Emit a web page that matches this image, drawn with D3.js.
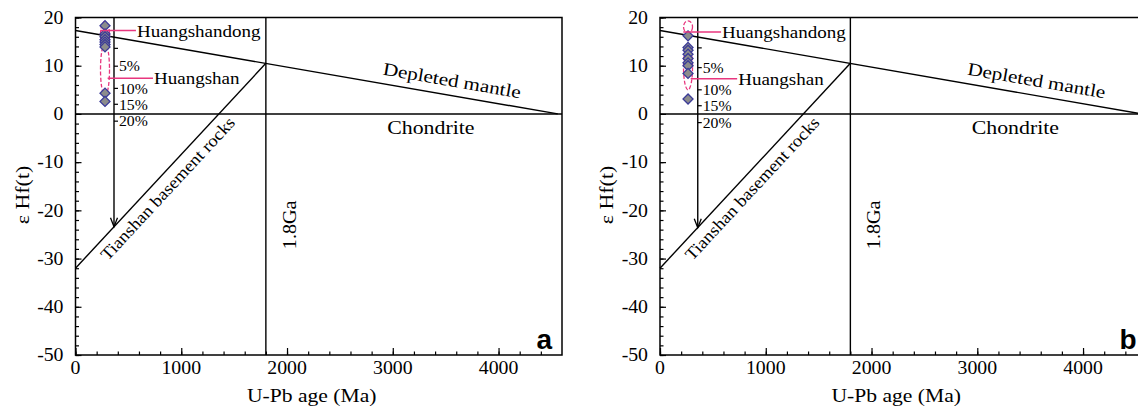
<!DOCTYPE html>
<html>
<head>
<meta charset="utf-8">
<script src="https://cdn.jsdelivr.net/npm/d3@7"></script>
<style>
    body { margin: 0; background: #fff; }
</style>
</head>
<body>
<div id="chart"></div>
<script>
// Axis ticks
const ageTicks = [0, 1000, 2000, 3000, 4000];
const hfTicks = [20, 10, 0, -10, -20, -30, -40, -50];

// Reference lines (age Ma, eHf)
const depletedMantle = [[0, 17.3], [4560, 0]];
const tianshanBasement = [[0, -32], [1800, 10.5]];
const boundaryAge = 1800;

// Mixing arrow with percentage ticks
const mixLabels = ['', '5%', '10%', '15%', '20%'];
const mixValuesA = [13.6, 9.9, 5.3, 2.0, -1.5];
const mixValuesB = [13.7, 9.6, 5.0, 1.7, -1.8];
const arrowAgeA = 364;
const arrowAgeB = 357;
const arrowEndA = -23.4;
const arrowEndB = -23.6;

// Zircon eHf(t) values
const zirconAgeA = 279;
const zirconAgeB = 265;
const huangshandongA = [18.3, 16.6, 16.0, 15.4, 14.9, 14.4];
const huangshanA = [13.9, 4.3, 2.6];
const huangshandongB = [16.2];
const huangshanB = [13.8, 13.2, 12.4, 11.5, 10.6, 10.0, 8.4, 3.1];

// Dashed field outlines [top, bottom] in eHf
const fieldHsdA = [19.2, 13.6];
const fieldHsA = [14.6, 3.8];
const fieldHsdB = [19.3, 16.8];
const fieldHsB = [14.4, 5.0];

// Leader lines: [eHf, label age]
const leaderHsdA = [17.3, 581];
const leaderHsA = [7.4, 742];
const leaderHsdB = [17.0, 587];
const leaderHsB = [7.3, 739];

const pink = '#e8367e';
const serif = 'Liberation Serif';
const W = 1138, H = 412;
const plotTop = 17.5, plotBottom = 355, plotW = 486.5;

const svg = d3.select('#chart')
    .append('svg')
    .attr('width', W)
    .attr('height', H);

function label(g, txt, x, y, opts = {}) {
    const t = g.append('g')
        .attr('transform', `translate(${x},${y}) rotate(${opts.rotate || 0}) scale(${opts.sx || 1.12},1)`)
        .append('text')
        .attr('font-family', serif)
        .attr('font-size', opts.size || 18)
        .attr('fill', '#000')
        .attr('text-anchor', opts.anchor || 'start')
        .text(txt);
    if (opts.dy) t.attr('dy', opts.dy);
    return t;
}

function drawPanel(cfg) {
    const g = svg.append('g').attr('transform', `translate(${cfg.left},0)`);
    const x = d3.scaleLinear().domain([0, 4600]).range([0, plotW]);
    const y = d3.scaleLinear().domain([-50, 20]).range([plotBottom, plotTop]);

    // minor ticks
    g.append('g')
        .attr('transform', `translate(0,${plotBottom})`)
        .call(d3.axisBottom(x).tickValues(d3.range(0, 4600, 200)).tickSize(-3.5).tickFormat(''))
        .call(a => a.select('.domain').remove());
    g.append('g')
        .call(d3.axisLeft(y).tickValues(d3.range(-50, 21, 2)).tickSize(-3.5).tickFormat(''))
        .call(a => a.select('.domain').remove());

    // major ticks
    const xAxis = g.append('g')
        .attr('transform', `translate(0,${plotBottom})`)
        .call(d3.axisBottom(x).tickValues(ageTicks).tickSize(-7).tickPadding(0).tickFormat(''));
    xAxis.select('.domain').remove();
    ageTicks.forEach(v => label(g, d3.format('d')(v), x(v), plotBottom + 19, { anchor: 'middle', sx: 1.1 }));

    const yAxis = g.append('g')
        .call(d3.axisLeft(y).tickValues(hfTicks).tickSize(-6).tickFormat(''));
    yAxis.select('.domain').remove();
    hfTicks.forEach(v => label(g, String(v), -12, y(v), { anchor: 'end', dy: '0.35em', sx: 1.1 }));
    g.selectAll('.tick line').attr('stroke', '#000').attr('stroke-width', 1.2);

    // frame
    g.append('rect')
        .attr('x', 0).attr('y', plotTop)
        .attr('width', plotW).attr('height', plotBottom - plotTop)
        .attr('fill', 'none').attr('stroke', '#000').attr('stroke-width', 1.5);

    const line = d3.line().x(d => x(d[0])).y(d => y(d[1]));
    const ref = (pts) => g.append('path').attr('d', line(pts))
        .attr('fill', 'none').attr('stroke', '#000').attr('stroke-width', 1.4);

    ref([[0, 0], [4600, 0]]);
    ref([[boundaryAge, 20], [boundaryAge, -50]]);
    ref(depletedMantle);
    ref(tianshanBasement);

    // mixing arrow
    ref([[cfg.arrowAge, 20], [cfg.arrowAge, cfg.arrowEnd]]);
    const ax = x(cfg.arrowAge), ay = y(cfg.arrowEnd);
    g.append('path')
        .attr('d', `M${ax - 3.5},${ay - 9} L${ax},${ay} L${ax + 3.5},${ay - 9}`)
        .attr('fill', 'none').attr('stroke', '#000').attr('stroke-width', 1.3);
    cfg.mixValues.forEach((v, i) => {
        g.append('line')
            .attr('x1', ax).attr('x2', ax + 4)
            .attr('y1', y(v)).attr('y2', y(v))
            .attr('stroke', '#000').attr('stroke-width', 1.2);
        if (mixLabels[i]) label(g, mixLabels[i], ax + 5, y(v), { size: 15, dy: '0.35em', sx: 1.05 });
    });

    // reference line labels
    const dmAge = 3550;
    const dmY = y(depletedMantle[0][1] * (1 - dmAge / depletedMantle[1][0]));
    const dmAngle = Math.atan2(y(depletedMantle[1][1]) - y(depletedMantle[0][1]),
        x(depletedMantle[1][0]) - x(depletedMantle[0][0])) * 180 / Math.PI;
    label(g, 'Depleted mantle', x(dmAge), dmY - 9, { anchor: 'middle', rotate: dmAngle, sx: 1.18 });
    label(g, 'Chondrite', x(3360), y(0) + 20, { anchor: 'middle', sx: 1.15, size: 19 });

    const tsAge = 780;
    const [p0, p1] = tianshanBasement;
    const tsVal = p0[1] + (p1[1] - p0[1]) * (tsAge - p0[0]) / (p1[0] - p0[0]);
    const tsAngle = Math.atan2(y(p1[1]) - y(p0[1]), x(p1[0]) - x(p0[0])) * 180 / Math.PI;
    label(g, 'Tianshan basement rocks', x(tsAge), y(tsVal), { anchor: 'middle', rotate: tsAngle, dy: 19, size: 17, sx: 1.1 });
    label(g, '1.8Ga', x(boundaryAge) + 30, y(-23), { anchor: 'middle', rotate: -90, sx: 1.12 });

    // axis titles
    label(g, 'U-Pb age (Ma)', plotW / 2 - 7, 402, { anchor: 'middle', sx: 1.2 });
    label(g, 'ε Hf(t)', -47, 195, { anchor: 'middle', rotate: -90, sx: 1.22 });

    // panel letter
    g.append('text')
        .attr('x', plotW - 10).attr('y', plotBottom - 6)
        .attr('text-anchor', 'end')
        .attr('font-family', 'Liberation Sans')
        .attr('font-weight', 'bold')
        .attr('font-size', 28)
        .text(cfg.letter);

    // dashed fields
    const ell = (f) => g.append('ellipse')
        .attr('cx', x(cfg.zirconAge)).attr('cy', (y(f[0]) + y(f[1])) / 2)
        .attr('rx', 4.5).attr('ry', (y(f[1]) - y(f[0])) / 2)
        .attr('fill', 'none').attr('stroke', pink)
        .attr('stroke-width', 1.3).attr('stroke-dasharray', '4,2');
    ell(cfg.fieldHsd);
    ell(cfg.fieldHs);

    // zircon points
    const diamond = d3.symbol().type(d3.symbolSquare).size(50);
    g.selectAll('.pt')
        .data(cfg.hsd.concat(cfg.hs))
        .enter()
        .append('path')
        .attr('class', 'pt')
        .attr('d', diamond)
        .attr('transform', d => `translate(${x(cfg.zirconAge)},${y(d)}) rotate(45)`)
        .attr('fill', '#8c8c8c')
        .attr('stroke', '#3b3b98')
        .attr('stroke-width', 1.3);

    // leader lines and names
    const leader = (ld, name, fromAge) => {
        g.append('line')
            .attr('x1', x(fromAge)).attr('x2', x(ld[1]) - 1)
            .attr('y1', y(ld[0])).attr('y2', y(ld[0]))
            .attr('stroke', pink).attr('stroke-width', 1.4);
        label(g, name, x(ld[1]), y(ld[0]) + 6, { size: 17, sx: 1.12 });
    };
    leader(cfg.leaderHsd, 'Huangshandong', cfg.zirconAge - 45);
    leader(cfg.leaderHs, 'Huangshan', cfg.zirconAge + 25);
}

drawPanel({
    left: 75.5, letter: 'a', arrowAge: arrowAgeA, arrowEnd: arrowEndA, mixValues: mixValuesA,
    zirconAge: zirconAgeA, hsd: huangshandongA, hs: huangshanA,
    fieldHsd: fieldHsdA, fieldHs: fieldHsA, leaderHsd: leaderHsdA, leaderHs: leaderHsA
});
drawPanel({
    left: 660, letter: 'b', arrowAge: arrowAgeB, arrowEnd: arrowEndB, mixValues: mixValuesB,
    zirconAge: zirconAgeB, hsd: huangshandongB, hs: huangshanB,
    fieldHsd: fieldHsdB, fieldHs: fieldHsB, leaderHsd: leaderHsdB, leaderHs: leaderHsB
});
</script>
</body>
</html>
